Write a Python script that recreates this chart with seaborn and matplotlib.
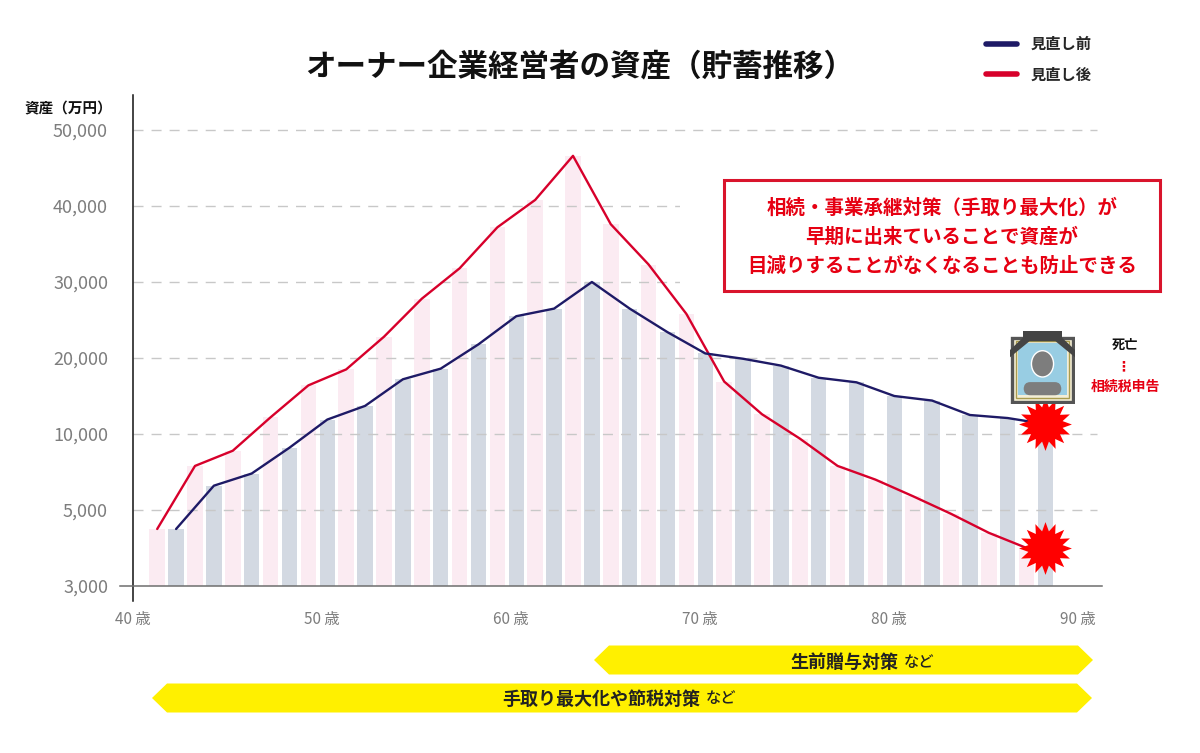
import numpy as np
import pandas as pd
import seaborn as sns
import matplotlib.pyplot as plt
from matplotlib.lines import Line2D
from matplotlib.patches import Rectangle, Polygon, Ellipse, FancyBboxPatch

# データ（万円）
ages_before = list(range(42, 89, 2))     # 見直し前：グレー棒・紺線
assets_before = [4500, 6600, 7400, 9100, 11900, 13700, 17200, 18600, 21800, 25500, 26500, 30000,
                 26500, 23400, 20600, 19900, 19000, 17400, 16800, 15000, 14400, 12500, 12100, 11300]
ages_after = list(range(41, 88, 2))      # 見直し後：ピンク棒・赤線
assets_after = [4500, 7900, 8900, 12200, 16400, 18500, 22800, 27800, 31800, 37200, 40800, 46600,
                37600, 32300, 25800, 16900, 12600, 9700, 7900, 7000, 5900, 4900, 4400, 4000]

y_ticks = [3000, 5000, 10000, 20000, 30000, 40000, 50000]
x_ticks = [40, 50, 60, 70, 80, 90]
label_before = '見直し前'
label_after = '見直し後'

title = 'オーナー企業経営者の資産（貯蓄推移）'
y_title = '資産（万円）'
note = '相続・事業承継対策（手取り最大化）が\n早期に出来ていることで資産が\n目減りすることがなくなることも防止できる'
death_label = '死亡'
tax_label = '相続税申告'
band_upper = '生前贈与対策'
band_lower = '手取り最大化や節税対策'
band_suffix = 'など'

NAVY = '#1e1a66'
RED = '#d7002b'
PINK_BAR = '#fde9f2'
GRAY_BAR = '#d1d8e4'
GRID = '#c8c8c8'
TICK = '#7d7d7d'
YELLOW = '#fff000'
NOTE_RED = '#e60012'

sns.set_style('white')
plt.rcParams['font.family'] = ['Noto Sans CJK JP', 'DejaVu Sans']

W, H = 1200, 753
fig = plt.figure(figsize=(W / 100, H / 100), dpi=100)


def fx(px):
    return px / W


def fy(py):
    return 1 - py / H


# 目盛が等間隔になる区分線形の縦軸
tick_pos = np.arange(len(y_ticks), dtype=float)


def fwd(v):
    v = np.asarray(v, dtype=float)
    out = np.interp(v, y_ticks, tick_pos)
    out = np.where(v < y_ticks[0], (v - y_ticks[0]) / (y_ticks[1] - y_ticks[0]), out)
    out = np.where(v > y_ticks[-1], tick_pos[-1] + (v - y_ticks[-1]) / (y_ticks[-1] - y_ticks[-2]), out)
    return out


def inv(p):
    p = np.asarray(p, dtype=float)
    out = np.interp(p, tick_pos, y_ticks)
    out = np.where(p < 0, y_ticks[0] + p * (y_ticks[1] - y_ticks[0]), out)
    out = np.where(p > tick_pos[-1], y_ticks[-1] + (p - tick_pos[-1]) * (y_ticks[-1] - y_ticks[-2]), out)
    return out


ax = fig.add_axes([fx(120), fy(601), fx(1102) - fx(120), fy(95) - fy(601)])

off = 0.28
df = pd.concat([
    pd.DataFrame({'pos': np.array(ages_after) + off, 'value': assets_after, 'series': label_after}),
    pd.DataFrame({'pos': np.array(ages_before) + off, 'value': assets_before, 'series': label_before}),
])
sns.barplot(data=df, x='pos', y='value', hue='series', hue_order=[label_after, label_before],
            palette=[PINK_BAR, GRAY_BAR], native_scale=True, width=0.82, dodge=False,
            errorbar=None, legend=False, linewidth=0, ax=ax, zorder=1)
# 棒の根元を 3,000 に揃える
for bar in ax.patches:
    top = bar.get_height()
    bar.set_y(y_ticks[0])
    bar.set_height(top - y_ticks[0])

sns.lineplot(x=np.array(ages_after) + off, y=assets_after, color=RED, linewidth=1.7, ax=ax, zorder=4)
sns.lineplot(x=np.array(ages_before) + off, y=assets_before, color=NAVY, linewidth=1.7, ax=ax, zorder=4)

ax.set_yscale('function', functions=(fwd, inv))
ax.set_ylim(inv(-15 / 76), inv((586 - 95) / 76))
ax.set_xlim(40 - 13 / 18.9, 40 + 969 / 18.9)

ax.hlines(y_ticks[1:], 40, 91, colors=GRID, linestyles=(0, (7.2, 5.8)), linewidth=1, zorder=2)

# 破裂マーク
n_pts = 32
ang = np.linspace(0, 2 * np.pi, n_pts, endpoint=False)
rad = np.where(np.arange(n_pts) % 2 == 0, 1.0, 0.66)
burst = np.column_stack([rad * np.sin(ang), rad * np.cos(ang)])
ax.plot([ages_before[-1] + off] * 2, [assets_after[-1], assets_before[-1]], ls='none',
        marker=burst, ms=38, color='#ff0000', mec='none', zorder=6, clip_on=False)

ax.set_xticks(x_ticks, labels=[f'{a} 歳' for a in x_ticks])
ax.set_yticks(y_ticks, labels=[f'{v:,}' for v in y_ticks])
ax.minorticks_off()
ax.tick_params(axis='both', which='both', length=0, colors=TICK)
ax.tick_params(axis='y', labelsize=13, pad=18)
ax.tick_params(axis='x', labelsize=11, pad=18)
ax.set_xlabel('')
ax.set_ylabel('')
for s in ['top', 'right']:
    ax.spines[s].set_visible(False)
ax.spines['left'].set_position(('data', 40))
ax.spines['left'].set_color('#111111')
ax.spines['left'].set_linewidth(1.1)
ax.spines['bottom'].set_position(('data', y_ticks[0]))
ax.spines['bottom'].set_color('#6e6e6e')
ax.spines['bottom'].set_linewidth(1.1)

# 注記ボックスとアイコンの下地
ax.add_patch(Rectangle((fx(680), fy(296)), fx(1170) - fx(680), fy(176) - fy(296),
                       transform=fig.transFigure, fc='white', ec='none', zorder=3, clip_on=False))
ax.add_patch(Rectangle((fx(975), fy(412)), fx(1175) - fx(975), fy(322) - fy(412),
                       transform=fig.transFigure, fc='white', ec='none', zorder=3, clip_on=False))
ax.add_patch(Rectangle((fx(724), fy(291)), fx(1160) - fx(724), fy(180) - fy(291),
                       transform=fig.transFigure, fc='white', ec='#d9142c', lw=2.2, zorder=5, clip_on=False))
fig.text(fx(942), fy(237), note, ha='center', va='center', color=NOTE_RED, fontsize=14,
         fontweight='bold', linespacing=1.62)

# 遺影アイコン
iax = fig.add_axes([fx(1010), fy(404), fx(1075) - fx(1010), fy(331) - fy(404)])
iax.set_xlim(0, 1)
iax.set_ylim(0, 1)
iax.axis('off')
iax.add_patch(Rectangle((0.03, 0.03), 0.94, 0.88, fc='#f3eed6', ec='#555555', lw=2.4))
iax.add_patch(Rectangle((0.09, 0.08), 0.82, 0.78, fc='none', ec='#a99c4e', lw=1))
iax.add_patch(Rectangle((0.13, 0.12), 0.74, 0.72, fc='#98cde3', ec='none'))
iax.add_patch(Ellipse((0.5, 0.55), 0.34, 0.36, fc='#7d7d7d'))
iax.add_patch(FancyBboxPatch((0.22, 0.13), 0.56, 0.16, boxstyle='round,pad=0.01,rounding_size=0.1',
                             fc='#7d7d7d', ec='none'))
iax.add_patch(Polygon([(0.0, 0.64), (0.3, 0.86), (0.7, 0.86), (1.0, 0.64), (1.0, 0.74),
                       (0.74, 0.96), (0.26, 0.96), (0.0, 0.74)], closed=True, fc='#444444', ec='none'))
iax.add_patch(Rectangle((0.2, 0.88), 0.6, 0.12, fc='#444444', ec='none', clip_on=False))

fig.text(fx(1125), fy(345), death_label, ha='center', va='center', fontsize=9.5, fontweight='bold',
         color='#111111')
fig.text(fx(1123), fy(366), '⋮', ha='center', va='center', fontsize=10, fontweight='bold', color=NOTE_RED,
         family=['DejaVu Sans'])
fig.text(fx(1125), fy(387), tax_label, ha='center', va='center', fontsize=10, fontweight='bold',
         color=NOTE_RED)

# タイトル・凡例・軸タイトル
fig.text(fx(580), fy(66), title, ha='center', va='center', fontsize=22, fontweight='bold', color='#111111')
fig.text(fx(68), fy(108), y_title, ha='center', va='center', fontsize=10.5, fontweight='bold', color='#111111')
ax.legend(handles=[Line2D([], [], color=NAVY, lw=4), Line2D([], [], color=RED, lw=4)],
          labels=[label_before, label_after], loc='upper left', bbox_to_anchor=(fx(986), fy(36)),
          bbox_transform=fig.transFigure, frameon=False, handlelength=2.0, handletextpad=0.9,
          labelspacing=0.95, borderpad=0, borderaxespad=0, prop={'weight': 'bold', 'size': 11})

# 下部の黄色い期間帯
def band(x0, x1, yc, h=29, tip=15):
    pts = [(x0, yc), (x0 + tip, yc - h / 2), (x1 - tip, yc - h / 2), (x1, yc),
           (x1 - tip, yc + h / 2), (x0 + tip, yc + h / 2)]
    fig.add_artist(Polygon([(fx(a), fy(b)) for a, b in pts], closed=True, transform=fig.transFigure,
                           fc=YELLOW, ec='none'))


band(594, 1093, 660)
band(152, 1092, 698)
for txt, xr, yc in [(band_upper, 898, 662), (band_lower, 700, 699)]:
    fig.text(fx(xr), fy(yc), txt, ha='right', va='center', fontsize=13, fontweight='bold', color='#222222')
    fig.text(fx(xr + 6), fy(yc), band_suffix, ha='left', va='center', fontsize=11, fontweight='medium',
             color='#222222')

fig.savefig('out.png', dpi=100)
